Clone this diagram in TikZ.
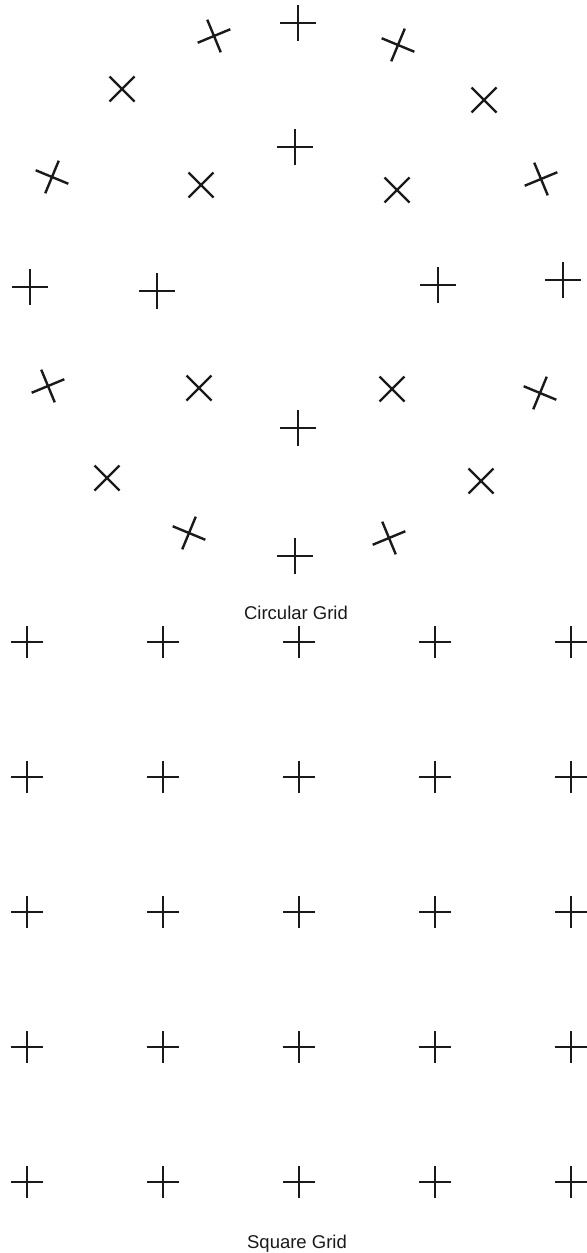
\documentclass[tikz,border=0pt]{standalone}
\usepackage{fontspec}
\setmainfont{Liberation Sans}
\usepackage{tikz}
\usetikzlibrary{shapes.misc}
\definecolor{Ink}{HTML}{1A1A1A}
\tikzset{gridmark/.style={cross out,draw=Ink,line width=.12cm,minimum size=1.13cm,inner sep=0pt},sqmark/.style={gridmark,minimum size=1cm},caption/.style={anchor=base,inner sep=0pt,font=\fontsize{26.3}{30}\selectfont,text=Ink}}

\begin{document}
\begin{tikzpicture}[x=.05cm,y=-.05cm]
      \useasboundingbox (0,0) rectangle (587,1253);
      % circular grid: polar angle / x / y
      \foreach \a/\x/\y [count=\i] in {90/298/23,112.5/214/36,67.5/398/45,135/122/89,45/484/100,157.5/52/177,22.5/541/179,180/30/287,0/563/280,202.5/48/386,-22.5/540/393,225/107/478,-45/481/481,247.5/189/533,-67.5/389/538,270/295/556}
        \node[gridmark,rotate=\a+45](outer\i) at (\x,\y){};
      \foreach \a/\x/\y [count=\i] in {90/295/147,135/201/185,45/397/190,180/157/291,0/438/285,225/199/388,-45/392/389,270/298/428}
        \node[gridmark,rotate=\a+45](inner\i) at (\x,\y){};
      \node[caption](circlabel) at (296,619){Circular Grid};
      % square grid
      \foreach \c in {0,...,4}
        \foreach \r in {0,...,4}
          \node[sqmark,rotate=45](sq\c\r) at (27+136*\c,642+135*\r){};
      \node[caption](sqlabel) at (297,1248){Square Grid};
    \end{tikzpicture}
\end{document}
